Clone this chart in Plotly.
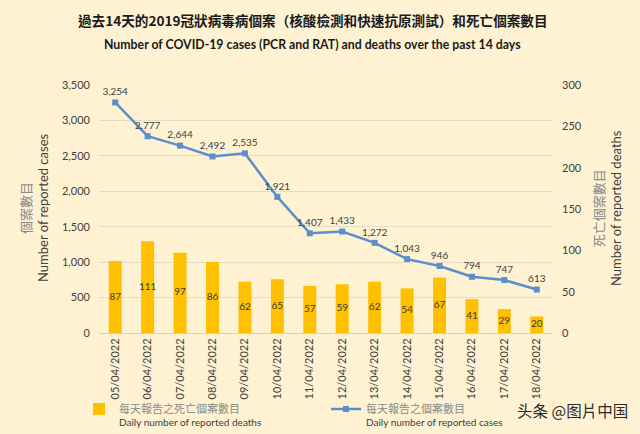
import plotly.graph_objects as go

dates = ["05/04/2022", "06/04/2022", "07/04/2022", "08/04/2022", "09/04/2022",
         "10/04/2022", "11/04/2022", "12/04/2022", "13/04/2022", "14/04/2022",
         "15/04/2022", "16/04/2022", "17/04/2022", "18/04/2022"]
cases = [3254, 2777, 2644, 2492, 2535, 1921, 1407, 1433, 1272, 1043, 946, 794, 747, 613]
deaths = [87, 111, 97, 86, 62, 65, 57, 59, 62, 54, 67, 41, 29, 20]

cases_ticks = [0, 500, 1000, 1500, 2000, 2500, 3000, 3500]
deaths_ticks = [0, 50, 100, 150, 200, 250, 300]

BG = "#FEF2D3"
FONT = "Lato, 'Noto Sans CJK TC', sans-serif"
CJK = "'Noto Sans CJK TC', sans-serif"
TXT = "#404040"
GREY_CJK = "<span style='color:#8a8a8a;font-family:Noto Sans CJK TC'>{}</span>"
GREY_CJK_LEG = "<span style='color:#8a8a8a;font-family:Noto Sans CJK TC;font-size:11px'>{}</span>"

W, H = 640, 434
ML, MR, MT, MB = 99, 87, 85, 101

fig = go.Figure()

fig.add_trace(go.Bar(
    x=dates, y=deaths, yaxis="y2", legend="legend",
    name=GREY_CJK_LEG.format("每天報告之死亡個案數目") + "<br>Daily number of reported deaths",
    marker=dict(color="#FFC000", line=dict(width=0)),
))

# death labels centred inside the bars
fig.add_trace(go.Scatter(
    x=dates, y=[d / 2 for d in deaths], yaxis="y2", mode="text",
    text=[str(v) for v in deaths], textposition="middle center",
    textfont=dict(color="#3a3a3a", size=10, family=FONT),
    showlegend=False, hoverinfo="skip", cliponaxis=False,
))

fig.add_trace(go.Scatter(
    x=dates, y=cases, yaxis="y", legend="legend2",
    name=GREY_CJK_LEG.format("每天報告之個案數目") + "<br>Daily number of reported cases",
    mode="lines+markers+text",
    line=dict(color="#5B8FC9", width=2.5),
    marker=dict(symbol="square", size=6, color="#5B8FC9"),
    text=[f"{v:,}" for v in cases], textposition="top center",
    textfont=dict(color=TXT, size=10, family=FONT),
    cliponaxis=False,
))

legend_common = dict(orientation="h", xref="container", yref="container",
                     xanchor="left", yanchor="top", valign="top",
                     font=dict(size=10, color=TXT, family=FONT),
                     bgcolor="rgba(0,0,0,0)", itemwidth=30)

fig.update_layout(
    width=W, height=H,
    paper_bgcolor=BG, plot_bgcolor=BG,
    margin=dict(l=ML, r=MR, t=MT, b=MB, autoexpand=False),
    font=dict(family=FONT, color=TXT, size=11),
    bargap=0.6,
    showlegend=True,
    legend=dict(x=79 / W, y=1 - 396 / H, **legend_common),
    legend2=dict(x=326 / W, y=1 - 396 / H, **legend_common),
    xaxis=dict(tickangle=-90, tickfont=dict(size=11, color=TXT),
               range=[-0.5, len(dates) - 0.5],
               showgrid=False, showline=True, linecolor="#d8d0bc", ticks=""),
    yaxis=dict(range=[0, 3500], tickvals=cases_ticks, ticktext=[f"{v:,}" for v in cases_ticks],
               showgrid=True, gridcolor="#e3dcc6", gridwidth=1, zeroline=False,
               tickfont=dict(size=11, color=TXT), ticks="", ticklabelstandoff=8),
    yaxis2=dict(range=[0, 300], tickvals=deaths_ticks, overlaying="y", side="right",
                showgrid=False, zeroline=False, tickfont=dict(size=11, color=TXT),
                ticks="", ticklabelstandoff=8),
)

plot_w, plot_h = W - ML - MR, H - MT - MB


def px_to_paper(px, py):
    return (px - ML) / plot_w, 1 - (py - MT) / plot_h


annotations = [
    dict(text="<b>過去14天的2019冠狀病毒病個案（核酸檢測和快速抗原測試）和死亡個案數目</b>",
         px=313, py=20, font=dict(size=13.6, color="#1a1a1a", family=CJK)),
    dict(text="<b>Number of COVID-19 cases (PCR and RAT) and deaths over the past 14 days</b>",
         px=312, py=44, font=dict(size=12.3, color="#1a1a1a", family=FONT)),
    dict(text=GREY_CJK.format("個案數目") + "<br>Number of reported cases",
         px=33, py=208, angle=-90, font=dict(size=13, color=TXT, family=FONT)),
    dict(text=GREY_CJK.format("死亡個案數目") + "<br>Number of reported deaths",
         px=606, py=208, angle=-90, font=dict(size=13, color=TXT, family=FONT)),
    dict(text="头条 @图片中国", px=572, py=410,
         font=dict(size=15.5, color="#2a2a2a", family=CJK)),
]
for a in annotations:
    ax, ay = px_to_paper(a["px"], a["py"])
    fig.add_annotation(xref="paper", yref="paper", showarrow=False,
                       x=ax, y=ay, xanchor="center", yanchor="middle",
                       text=a["text"], textangle=a.get("angle", 0), font=a["font"])

fig.write_html("out.html", config={"displayModeBar": False},
               post_script="document.body.style.margin='0';document.body.style.overflow='hidden';")
